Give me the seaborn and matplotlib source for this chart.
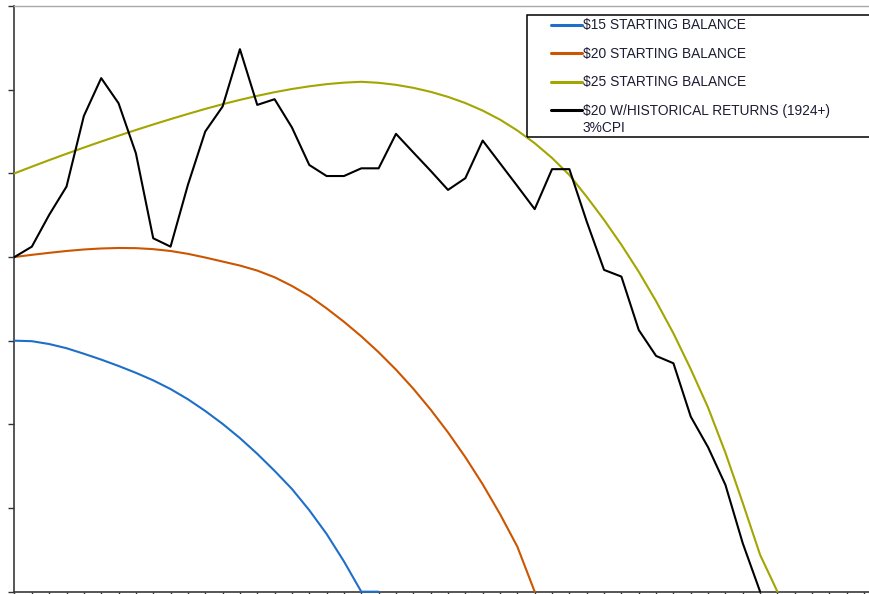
import numpy as np
import pandas as pd
import matplotlib
matplotlib.use("Agg")
import matplotlib.pyplot as plt
from matplotlib.patches import Rectangle
import seaborn as sns

# ---- data (balances in $, by year) ----
labels = ["$15 STARTING BALANCE", "$20 STARTING BALANCE",
          "$25 STARTING BALANCE", "$20 W/HISTORICAL RETURNS (1924+)"]
label_extra = "3%CPI"

bal15 = [15.0, 14.97, 14.8, 14.55, 14.22, 13.87, 13.49, 13.08, 12.63, 12.11,
         11.5, 10.8, 10.03, 9.18, 8.24, 7.22, 6.14, 4.87, 3.45, 1.81,
         0.0, 0.0]
bal20 = [20.0, 20.13, 20.25, 20.36, 20.45, 20.51, 20.54, 20.53, 20.47, 20.36,
         20.19, 19.97, 19.73, 19.49, 19.19, 18.79, 18.27, 17.67, 16.93, 16.13,
         15.26, 14.31, 13.27, 12.13, 10.88, 9.52, 8.04, 6.42, 4.64, 2.69,
         0.0]
bal25 = [25.0, 25.4, 25.79, 26.17, 26.54, 26.9, 27.25, 27.59, 27.92, 28.24,
         28.55, 28.85, 29.13, 29.39, 29.63, 29.85, 30.04, 30.2, 30.33, 30.42,
         30.47, 30.41, 30.29, 30.11, 29.87, 29.57, 29.2, 28.75, 28.21, 27.56,
         26.8, 25.92, 24.9, 23.6, 22.22, 20.73, 19.12, 17.36, 15.44, 13.3,
         11.0, 8.3, 5.3, 2.2, 0.0]
hist20 = [20.0, 20.62, 22.52, 24.21, 28.43, 30.69, 29.19, 26.2, 21.12, 20.62,
          24.31, 27.5, 28.99, 32.42, 29.09, 29.43, 27.74, 25.5, 24.84, 24.84,
          25.3, 25.3, 27.36, 26.25, 25.15, 24.01, 24.71, 26.96, 25.6, 24.24,
          22.86, 25.25, 25.25, 22.12, 19.23, 18.83, 15.64, 14.09, 13.65, 10.46,
          8.63, 6.38, 2.89, 0.0]

colors = ["#1f6fc8", "#cc5500", "#a3a500", "#000000"]

series = [bal15, bal20, bal25, hist20]
frames = []
for lab, vals in zip(labels, series):
    frames.append(pd.DataFrame({"year": np.arange(len(vals)),
                                "balance": vals, "series": lab}))
df = pd.concat(frames, ignore_index=True)

# ---- figure ----
sns.set_style("white")
plt.rcParams["font.family"] = ["Liberation Sans", "DejaVu Sans"]

W, H = 870, 594
fig = plt.figure(figsize=(W / 100, H / 100), dpi=100)
left_px, top_px, bottom_px = 14.5, 6.0, 591.7
ax = fig.add_axes([left_px / W, (H - bottom_px) / H,
                   50 * 17.34 / W, (bottom_px - top_px) / H])

sns.lineplot(data=df, x="year", y="balance", hue="series",
             hue_order=labels, palette=colors, linewidth=1.5,
             estimator=None, legend=False, ax=ax, zorder=3)
for ln in ax.lines:
    ln.set_clip_on(False)

ax.set_xlim(0, 50)
ax.set_ylim(0, 35)
ax.set_xticks(np.arange(0, 51, 1))
ax.set_yticks(np.arange(0, 36, 5))
ax.set_xticklabels([])
ax.set_yticklabels([])
ax.set_xlabel("")
ax.set_ylabel("")
ax.tick_params(axis="y", direction="out", length=4, width=1.0,
               color="#333333", left=True)
ax.tick_params(axis="x", direction="out", length=3, width=1.0,
               color="#333333", bottom=True)

ax.spines["left"].set_color("#3a3a3a")
ax.spines["left"].set_linewidth(1.2)
ax.spines["bottom"].set_color("#3a3a3a")
ax.spines["bottom"].set_linewidth(1.2)
ax.spines["top"].set_color("#a8a8a8")
ax.spines["top"].set_linewidth(1.0)
ax.spines["right"].set_visible(False)

# ---- legend ----
fs = 9.9
fs_px = fs * 100 / 72
leg = ax.legend(ax.lines, labels, loc="upper left",
                bbox_to_anchor=(550.7 / W, 1 - 18.5 / H),
                bbox_transform=fig.transFigure, frameon=False,
                borderpad=0, borderaxespad=0,
                handlelength=31 / fs_px, handletextpad=1.5 / fs_px,
                labelspacing=1.05, prop={"size": fs})
for t in leg.get_texts():
    t.set_color("#1c1c34")
for h in leg.legend_handles:
    h.set_linewidth(2.2)

fig.text(582.7 / W, 1 - 128.5 / H, label_extra, fontsize=fs,
         color="#1c1c34", va="center", ha="left")

frame = Rectangle((526.7 / W, 1 - 136.7 / H), (1100 - 526.7) / W, 121.7 / H,
                  transform=fig.transFigure, fill=False, edgecolor="black",
                  linewidth=1.1, clip_on=False)
fig.patches.append(frame)

fig.savefig("out.png", dpi=100)
